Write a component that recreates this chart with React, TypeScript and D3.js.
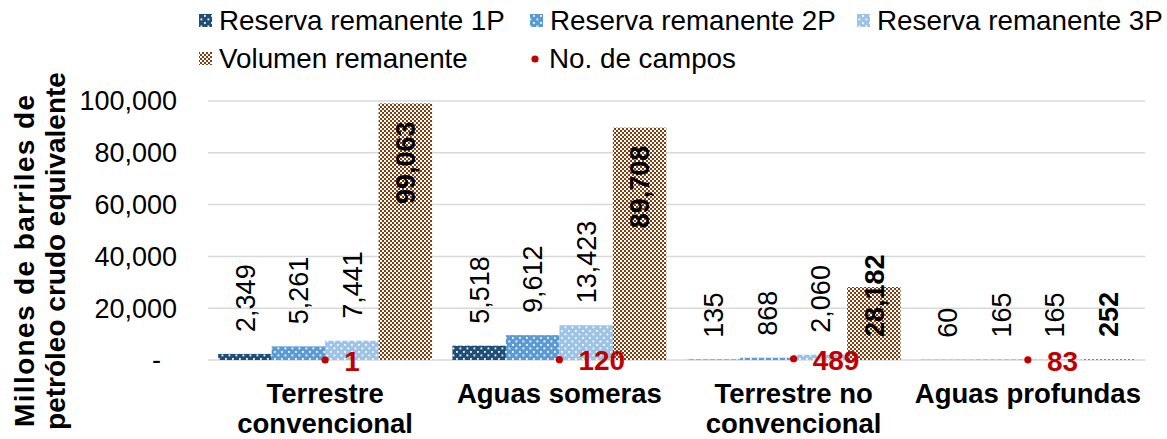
import React from "react";
import * as d3 from "d3";

const categories = ["Terrestre convencional", "Aguas someras", "Terrestre no convencional", "Aguas profundas"];
const categoryLines = [["Terrestre", "convencional"], ["Aguas someras"], ["Terrestre no", "convencional"], ["Aguas profundas"]];
const reserva1P = [2349, 5518, 135, 60];
const reserva2P = [5261, 9612, 868, 165];
const reserva3P = [7441, 13423, 2060, 165];
const volumen = [99063, 89708, 28182, 252];
const campos = [1, 120, 489, 83];
const yTicks = [0, 20000, 40000, 60000, 80000, 100000];
const seriesNames = ["Reserva remanente 1P", "Reserva remanente 2P", "Reserva remanente 3P", "Volumen remanente", "No. de campos"];

const FONT = "'Liberation Sans', Arial, sans-serif";
const C1 = "#1F4E79";
const C2 = "#5B9BD5";
const C3 = "#9DC3E6";
const CV = "#843C0C";
const CR = "#C00000";

export default function App() {
  const W = 1167, H = 439;
  const x0 = 208, x1 = 1145, yTop = 101, yBot = 360;
  const x = d3.scaleBand<string>().domain(categories).range([x0, x1]).padding(0);
  const keys = ["p1", "p2", "p3", "pv"];
  const xi = d3.scaleBand<string>().domain(keys).range([0, x.bandwidth()]).paddingInner(0).paddingOuter(0.19);
  const y = d3.scaleLinear().domain([0, 100000]).range([yBot, yTop]);
  const fmt = d3.format(",");
  const series = [reserva1P, reserva2P, reserva3P, volumen];
  const fs = 27;
  const textLen = (s: string) => s.split("").reduce((a, c) => a + (c === "," ? 0.278 : 0.556) * fs, 0);

  return (
    <svg width={W} height={H} style={{ display: "block", position: "absolute", left: 0, top: 0 }} fontFamily={FONT}>
      <defs>
        {[["p1", C1], ["p2", C2], ["p3", C3]].map(([id, c]) => (
          <pattern key={id} id={id} width="7" height="7" patternUnits="userSpaceOnUse">
            <rect width="7" height="7" fill={c} />
            <rect x="1" y="1" width="1.8" height="1.8" fill="#fff" />
            <rect x="4.5" y="4.5" width="1.8" height="1.8" fill="#fff" />
          </pattern>
        ))}
        <pattern id="pv" width="4" height="4" patternUnits="userSpaceOnUse">
          <rect width="4" height="4" fill={CV} />
          <rect x="0" y="0" width="2" height="2" fill="#fff" />
          <rect x="2" y="2" width="2" height="2" fill="#fff" />
        </pattern>
      </defs>
      <rect width={W} height={H} fill="#fff" />
      {yTicks.map((t) => (
        <line key={t} x1={x0} x2={x1} y1={y(t)} y2={y(t)} stroke="#D9D9D9" strokeWidth={1.5} />
      ))}
      {yTicks.map((t) => (
        <text key={"t" + t} x={t === 0 ? 161 : 177} y={y(t)} dy="0.35em" textAnchor="end" fontSize={fs} fill="#000">
          {t === 0 ? "-" : fmt(t)}
        </text>
      ))}
      <text transform="translate(34, 261) rotate(-90)" x={0} y={0} textAnchor="middle" fontSize={28} fontWeight="bold" textLength={332} lengthAdjust="spacing">
        Millones de barriles de
      </text>
      <text transform="translate(65, 251) rotate(-90)" x={0} y={0} textAnchor="middle" fontSize={28} fontWeight="bold">
        petróleo crudo equivalente
      </text>
      {series.map((vals, si) =>
        vals.map((v, ci) => {
          const bx = (x(categories[ci]) as number) + (xi(keys[si]) as number);
          return (
            <rect key={`b${si}-${ci}`} x={bx} y={y(v)} width={xi.bandwidth()} height={yBot - y(v)} fill={`url(#${keys[si]})`} />
          );
        })
      )}
      {series.map((vals, si) =>
        vals.map((v, ci) => {
          const bx = (x(categories[ci]) as number) + (xi(keys[si]) as number) + xi.bandwidth() / 2;
          const s = fmt(v);
          const L = textLen(s);
          const bottom = si < 3 ? y(v) - 22 : Math.min(y(v) + 18 + L, yBot - 23);
          return (
            <text key={`l${si}-${ci}`} transform={`translate(${bx}, ${bottom}) rotate(-90)`} dy="0.36em" textAnchor="start"
              fontSize={fs} fontWeight={si === 3 ? "bold" : "normal"} fill="#000">
              {s}
            </text>
          );
        })
      )}
      {campos.map((v, ci) => {
        const cx = (x(categories[ci]) as number) + x.bandwidth() / 2;
        const cy = y(v);
        return (
          <g key={`c${ci}`}>
            <circle cx={cx} cy={cy} r={3.6} fill={CR} />
            <text x={cx + 19} y={cy + 1} dy="0.35em" fontSize={28} fontWeight="bold" fill={CR}>
              {fmt(v)}
            </text>
          </g>
        );
      })}
      {categoryLines.map((lines, ci) => {
        const cx = (x(categories[ci]) as number) + x.bandwidth() / 2;
        return (
          <text key={`cat${ci}`} textAnchor="middle" fontSize={27.5} fontWeight="bold" fill="#000">
            {lines.map((ln, li) => (
              <tspan key={li} x={cx} y={403 + li * 30}>{ln}</tspan>
            ))}
          </text>
        );
      })}
      {[
        { mx: 199, y: 30, key: "p1", name: seriesNames[0] },
        { mx: 530, y: 30, key: "p2", name: seriesNames[1] },
        { mx: 857, y: 30, key: "p3", name: seriesNames[2] },
        { mx: 199, y: 68, key: "pv", name: seriesNames[3] },
      ].map((it) => (
        <g key={it.key}>
          <rect x={it.mx} y={it.y - 16} width={13} height={13} fill={`url(#${it.key})`} />
          <text x={it.mx + 20} y={it.y} fontSize={27.8} fill="#000">{it.name}</text>
        </g>
      ))}
      <circle cx={535} cy={59} r={3.6} fill={CR} />
      <text x={549} y={68} fontSize={27.8} fill="#000">{seriesNames[4]}</text>
    </svg>
  );
}
